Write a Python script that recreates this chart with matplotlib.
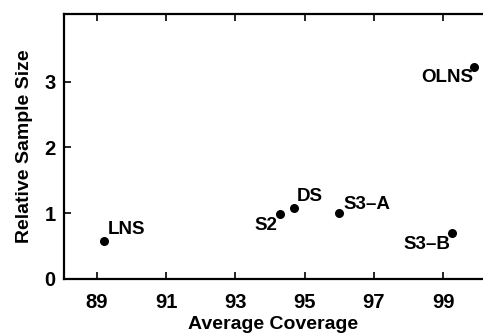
import matplotlib.pyplot as plt

plt.rcParams['font.family'] = ['Liberation Sans', 'DejaVu Sans']
plt.rcParams['font.weight'] = 'bold'

names = ["LNS", "S2", "DS", "S3\u2013A", "S3\u2013B", "OLNS"]
coverage = [89.2, 94.3, 94.68, 95.99, 99.26, 99.9]
rel_size = [0.58, 0.99, 1.08, 1.0, 0.70, 3.22]

# label offsets in points (dx, dy) and alignment
offsets = {
    "LNS": (3, 2, "left", "bottom"),
    "S2": (-2, -2, "right", "top"),
    "DS": (2, 2, "left", "bottom"),
    "S3\u2013A": (3, 0, "left", "bottom"),
    "S3\u2013B": (-1, -2, "right", "top"),
    "OLNS": (-1, -1, "right", "top"),
}

fig = plt.figure(figsize=(4.83, 3.33), dpi=100)
ax = fig.add_axes([64/483, 1 - 279/333, 1 - 64/483, (279 - 14)/333])

ax.scatter(coverage, rel_size, s=30, color="black", zorder=3)
for n, x, y in zip(names, coverage, rel_size):
    dx, dy, ha, va = offsets[n]
    ax.annotate(n, (x, y), xytext=(dx, dy), textcoords="offset points",
                ha=ha, va=va, fontsize=13.5, fontweight="bold")

ax.set_xlim(88.05, 100.15)
ax.set_ylim(0, 4.03)
ax.set_xticks([89, 91, 93, 95, 97, 99])
ax.set_yticks([0, 1, 2, 3])
ax.tick_params(direction="in", top=True, length=5, width=1.2, labelsize=14.5)
ax.tick_params(axis="x", pad=10)
ax.tick_params(axis="y", pad=6)
for sp in ["left", "bottom", "top"]:
    ax.spines[sp].set_linewidth(1.6)
ax.spines["right"].set_visible(False)

ax.set_xlabel("Average Coverage", fontsize=14, fontweight="bold", labelpad=3)
ax.set_ylabel("Relative Sample Size", fontsize=14, fontweight="bold", labelpad=8)

fig.savefig("out.png", dpi=100)
